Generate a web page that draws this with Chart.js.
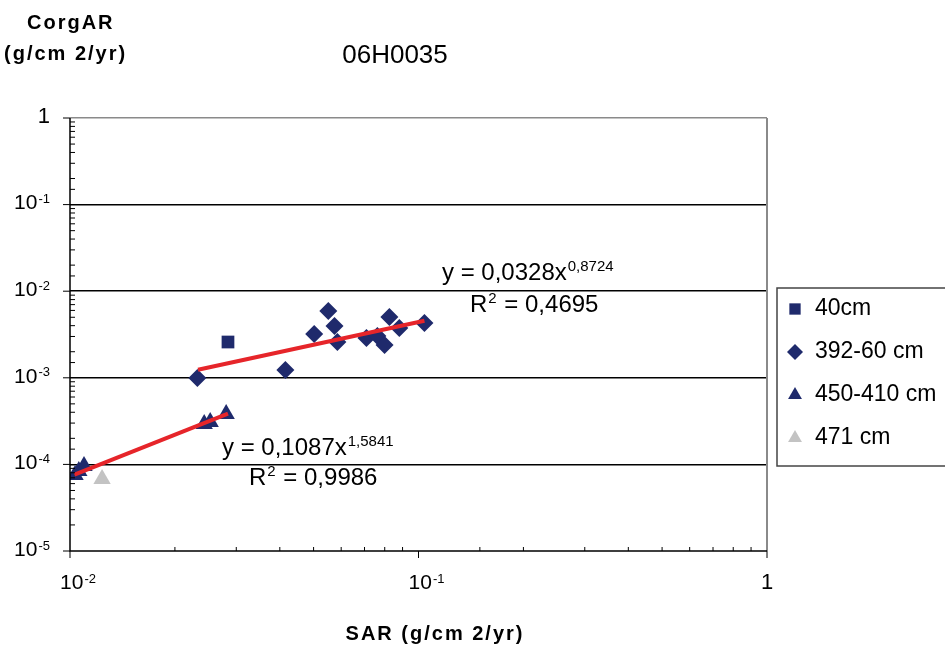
<!DOCTYPE html>
<html>
<head>
<meta charset="utf-8">
<script src="https://cdn.jsdelivr.net/npm/chart.js@4.4.1/dist/chart.umd.min.js"></script>
<style>
  html, body { margin: 0; padding: 0; background: #fff; }
  #wrap { width: 945px; height: 647px; }
</style>
</head>
<body>
<div id="wrap"><canvas id="chart" width="945" height="647"></canvas></div>
<script>
// values (SAR on x, CorgAR on y)
const sar40 = [0.0284];
const corg40 = [0.00259];

const sar392 = [0.0232, 0.0415, 0.0502, 0.0551, 0.0574, 0.0585, 0.0709, 0.0762, 0.0799, 0.0825, 0.0881, 0.1040];
const corg392 = [0.000995, 0.00123, 0.00320, 0.00591, 0.00397, 0.00259, 0.00288, 0.00304, 0.00239, 0.00504, 0.00376, 0.00430];

const sar450 = [0.01034, 0.0106, 0.01097, 0.02427, 0.02525, 0.02806];
const corg450 = [0.0000755, 0.0000839, 0.0000959, 0.000293, 0.000309, 0.000382];

const sar471 = [0.01236];
const corg471 = [0.0000678];

// ends of the two power trend lines (straight on log-log)
const fitUpX = [0.0233, 0.104];
const fitUpY = [0.00124, 0.00455];
const fitLowX = [0.0103, 0.0284];
const fitLowY = [0.000076, 0.000385];

const seriesLabels = ['40cm', '392-60 cm', '450-410 cm', '471 cm'];
const xTicks = [0.01, 0.1, 1];
const yTicks = [1, 0.1, 0.01, 0.001, 0.0001, 0.00001];
const eqUp = ['y = 0,0328x', '0,8724', '0,4695'];
const eqLow = ['y = 0,1087x', '1,5841', '0,9986'];

const NAVY = '#1f2a6c';
const GREY = '#c3c3c3';
const RED = '#e6252a';
const FAM = '"Liberation Sans", Arial, sans-serif';
const font = (s, b) => (b ? 'bold ' : '') + s + 'px ' + FAM;

const pts = (xs, ys) => xs.map((x, i) => ({ x: x, y: ys[i] }));

const isDecade = v => {
    const l = Math.log10(v);
    return Math.abs(l - Math.round(l)) < 1e-6;
};

function powLabel(ctx, v, x, y, align) {
    const e = Math.round(Math.log10(v));
    ctx.textBaseline = 'middle';
    ctx.fillStyle = '#000';
    if (e === 0) {
        ctx.font = font(22);
        ctx.textAlign = align;
        ctx.fillText('1', x, y);
        return;
    }
    ctx.font = font(21);
    const w1 = ctx.measureText('10').width;
    ctx.font = font(13);
    const w2 = ctx.measureText(String(e)).width;
    const x0 = align === 'right' ? x - w1 - w2 - 1 : x - (w1 + w2 + 1) / 2;
    ctx.textAlign = 'left';
    ctx.font = font(21);
    ctx.fillText('10', x0, y);
    ctx.font = font(13);
    ctx.fillText(String(e), x0 + w1 + 1, y - 4);
}

function supText(ctx, base, sup, tail, x, y, size, supSize) {
    ctx.textAlign = 'left';
    ctx.textBaseline = 'middle';
    ctx.fillStyle = '#000';
    ctx.font = font(size);
    ctx.fillText(base, x, y);
    let w = ctx.measureText(base).width;
    ctx.font = font(supSize);
    ctx.fillText(sup, x + w + 1, y - 6);
    if (tail) {
        const w2 = ctx.measureText(sup).width;
        ctx.font = font(size);
        ctx.fillText(tail, x + w + w2 + 2, y);
    }
}

function marker(ctx, style, x, y, r, color) {
    ctx.save();
    ctx.fillStyle = color;
    ctx.beginPath();
    if (style === 'rect') {
        const s = r * Math.SQRT1_2;
        ctx.rect(x - s, y - s, 2 * s, 2 * s);
    } else if (style === 'rectRot') {
        ctx.moveTo(x, y - r); ctx.lineTo(x + r, y); ctx.lineTo(x, y + r); ctx.lineTo(x - r, y);
        ctx.closePath();
    } else {
        const h = r * 1.5, w = r * Math.sqrt(3) / 2;
        ctx.moveTo(x, y - r); ctx.lineTo(x + w, y - r + h); ctx.lineTo(x - w, y - r + h);
        ctx.closePath();
    }
    ctx.fill();
    ctx.restore();
}

const decor = {
    id: 'decor',
    afterDraw(chart) {
        const ctx = chart.ctx;
        const { left, right, top, bottom } = chart.chartArea;
        const xs = chart.scales.x, ys = chart.scales.y;
        ctx.save();

        // frame: grey right side, black axes
        ctx.strokeStyle = '#8a8a8a';
        ctx.lineWidth = 2;
        ctx.beginPath();
        ctx.moveTo(right, top); ctx.lineTo(right, bottom);
        ctx.stroke();

        ctx.strokeStyle = '#000';
        ctx.lineWidth = 1.5;
        ctx.beginPath();
        ctx.moveTo(left, top); ctx.lineTo(left, bottom); ctx.lineTo(right, bottom);
        ctx.stroke();

        // tick marks: majors outside, minors inside
        ctx.lineWidth = 1;
        ctx.beginPath();
        ys.ticks.forEach(t => {
            const py = ys.getPixelForValue(t.value);
            if (isDecade(t.value)) { ctx.moveTo(left - 7, py); ctx.lineTo(left, py); }
            else { ctx.moveTo(left, py); ctx.lineTo(left + 5, py); }
        });
        xs.ticks.forEach(t => {
            const px = xs.getPixelForValue(t.value);
            if (isDecade(t.value)) { ctx.moveTo(px, bottom); ctx.lineTo(px, bottom + 7); }
            else { ctx.moveTo(px, bottom); ctx.lineTo(px, bottom - 4); }
        });
        ctx.stroke();

        // tick labels
        yTicks.forEach(v => powLabel(ctx, v, left - 20, ys.getPixelForValue(v) - 1, 'right'));
        xTicks.forEach(v => {
            const px = xs.getPixelForValue(v);
            powLabel(ctx, v, px + (v === 1 ? 0 : 8), bottom + 32, 'center');
        });

        // titles
        ctx.fillStyle = '#000';
        ctx.textBaseline = 'middle';
        ctx.letterSpacing = '2px';
        ctx.textAlign = 'left';
        ctx.font = font(20, true);
        ctx.fillText('CorgAR', 27, 23);
        ctx.fillText('(g/cm 2/yr)', 4, 54);
        ctx.textAlign = 'center';
        ctx.fillText('SAR (g/cm 2/yr)', 435, 634);
        ctx.letterSpacing = '0px';
        ctx.font = font(26);
        ctx.fillText('06H0035', 395, 56);

        // trend equations
        supText(ctx, eqUp[0], eqUp[1], null, 442, 273, 24, 15);
        supText(ctx, 'R', '2', ' = ' + eqUp[2], 470, 305, 24, 15);
        supText(ctx, eqLow[0], eqLow[1], null, 222, 448, 24, 15);
        supText(ctx, 'R', '2', ' = ' + eqLow[2], 249, 478, 24, 15);

        // legend box
        ctx.strokeStyle = '#444';
        ctx.lineWidth = 1.5;
        ctx.strokeRect(777, 288, 200, 178);
        const styles = ['rect', 'rectRot', 'triangle', 'triangle'];
        const colors = [NAVY, NAVY, NAVY, GREY];
        seriesLabels.forEach((lab, i) => {
            const cy = 309 + i * 43;
            marker(ctx, styles[i], 795, cy, 8, colors[i]);
            ctx.fillStyle = '#000';
            ctx.font = font(23);
            ctx.textAlign = 'left';
            ctx.textBaseline = 'middle';
            ctx.fillText(lab, 815, cy);
        });

        ctx.restore();
    }
};

const scatterSet = (label, xs, ys, style, r, color) => ({
    type: 'scatter',
    label: label,
    data: pts(xs, ys),
    pointStyle: style,
    pointRadius: r,
    pointHoverRadius: r,
    pointBackgroundColor: color,
    pointBorderWidth: 0,
    borderColor: color,
    order: 1
});

const fitSet = (xs, ys) => ({
    type: 'line',
    data: pts(xs, ys),
    borderColor: RED,
    borderWidth: 4,
    pointRadius: 0,
    fill: false,
    order: 0
});

new Chart(document.getElementById('chart').getContext('2d'), {
    type: 'scatter',
    data: {
        datasets: [
            scatterSet(seriesLabels[0], sar40, corg40, 'rect', 9, NAVY),
            scatterSet(seriesLabels[1], sar392, corg392, 'rectRot', 9, NAVY),
            scatterSet(seriesLabels[2], sar450, corg450, 'triangle', 10, NAVY),
            scatterSet(seriesLabels[3], sar471, corg471, 'triangle', 10, GREY),
            fitSet(fitUpX, fitUpY),
            fitSet(fitLowX, fitLowY)
        ]
    },
    options: {
        responsive: false,
        animation: false,
        layout: { padding: { left: 70, top: 118, right: 178, bottom: 96 } },
        plugins: { legend: { display: false }, tooltip: { enabled: false } },
        scales: {
            x: {
                type: 'logarithmic',
                min: 0.01,
                max: 1,
                grid: { display: false, drawTicks: false },
                border: { display: false },
                ticks: { display: false }
            },
            y: {
                type: 'logarithmic',
                min: 0.00001,
                max: 1,
                grid: {
                    drawTicks: false,
                    lineWidth: 1.5,
                    color: c => {
                        if (!c.tick || !isDecade(c.tick.value)) return 'rgba(0,0,0,0)';
                        if (c.tick.value >= 1) return '#8a8a8a';
                        if (c.tick.value <= 0.00001) return 'rgba(0,0,0,0)';
                        return '#000';
                    }
                },
                border: { display: false },
                ticks: { display: false }
            }
        }
    },
    plugins: [decor]
});
</script>
</body>
</html>
